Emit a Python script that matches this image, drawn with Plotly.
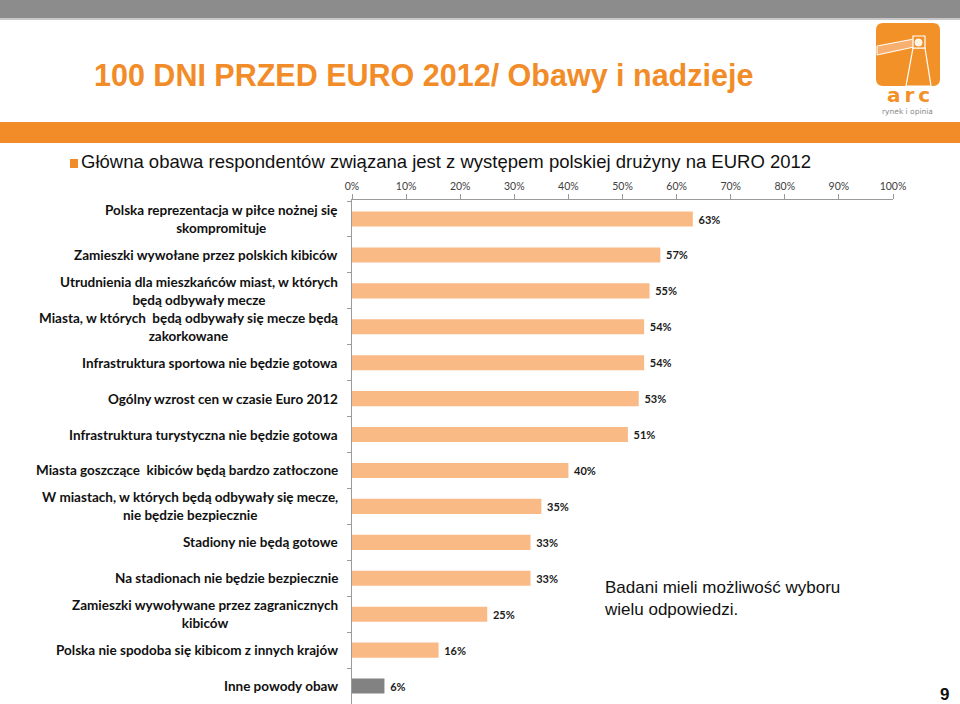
import plotly.graph_objects as go

categories = [
    "Polska reprezentacja w piłce nożnej się<br>skompromituje",
    "Zamieszki wywołane przez polskich kibiców",
    "Utrudnienia dla mieszkańców miast, w których<br>będą odbywały mecze",
    "Miasta, w których  będą odbywały się mecze będą<br>zakorkowane",
    "Infrastruktura sportowa nie będzie gotowa",
    "Ogólny wzrost cen w czasie Euro 2012",
    "Infrastruktura turystyczna nie będzie gotowa",
    "Miasta goszczące  kibiców będą bardzo zatłoczone",
    "W miastach, w których będą odbywały się mecze,<br>nie będzie bezpiecznie",
    "Stadiony nie będą gotowe",
    "Na stadionach nie będzie bezpiecznie",
    "Zamieszki wywoływane przez zagranicznych<br>kibiców",
    "Polska nie spodoba się kibicom z innych krajów",
    "Inne powody obaw",
]
values = [0.63, 0.57, 0.55, 0.54, 0.54, 0.53, 0.51, 0.40, 0.35, 0.33, 0.33, 0.25, 0.16, 0.06]
tick_vals = [0, 0.1, 0.2, 0.3, 0.4, 0.5, 0.6, 0.7, 0.8, 0.9, 1.0]
tick_text = ["0%", "10%", "20%", "30%", "40%", "50%", "60%", "70%", "80%", "90%", "100%"]

PEACH = "#F9BA86"
GREY_BAR = "#828282"
ORANGE = "#F28C28"
LOGO = "#F39129"
bar_colors = [PEACH] * (len(values) - 1) + [GREY_BAR]

W, H = 960, 704
L, R, T, B = 352, 67, 200, 0
PW = W - L - R
PH = H - T - B


def xp(x):
    return (x - L) / PW


def yp(y):
    return (H - B - y) / PH


LABEL_FONT = "Lato, Carlito, Calibri, sans-serif"

fig = go.Figure(
    go.Bar(
        x=values,
        y=categories,
        orientation="h",
        marker=dict(color=bar_colors, line=dict(width=0)),
        texttemplate="\u00a0%{x:.0%}",
        textposition="outside",
        textfont=dict(family=LABEL_FONT, size=11, color="#1a1a1a", weight="bold"),
        cliponaxis=False,
        hoverinfo="skip",
    )
)

# category labels (centered multi-line, right aligned block)
for c in categories:
    fig.add_annotation(
        x=xp(340), xref="paper", y=c, yref="y",
        text=c, showarrow=False, xanchor="right", align="center",
        font=dict(family=LABEL_FONT, size=13.5, color="#111111", weight="bold"),
    )

shapes = []
# top grey band
shapes.append(dict(type="rect", xref="paper", yref="paper", x0=xp(0), x1=xp(960), y0=yp(18), y1=yp(0),
                   fillcolor="#8C8C8C", line=dict(width=0), layer="below"))
shapes.append(dict(type="rect", xref="paper", yref="paper", x0=xp(0), x1=xp(960), y0=yp(20), y1=yp(18),
                   fillcolor="#C8C8C8", line=dict(width=0), layer="below"))
# orange band
shapes.append(dict(type="rect", xref="paper", yref="paper", x0=xp(0), x1=xp(960), y0=yp(143), y1=yp(122),
                   fillcolor=ORANGE, line=dict(width=0), layer="below"))
# subtitle bullet
shapes.append(dict(type="rect", xref="paper", yref="paper", x0=xp(70), x1=xp(78), y0=yp(168), y1=yp(159),
                   fillcolor=ORANGE, line=dict(width=0)))
# logo square (rounded)
x0, x1, y0, y1, r = 876, 940, 23, 86, 7
path = (f"M {xp(x0 + r)},{yp(y0)} L {xp(x1 - r)},{yp(y0)} Q {xp(x1)},{yp(y0)} {xp(x1)},{yp(y0 + r)} "
        f"L {xp(x1)},{yp(y1 - r)} Q {xp(x1)},{yp(y1)} {xp(x1 - r)},{yp(y1)} "
        f"L {xp(x0 + r)},{yp(y1)} Q {xp(x0)},{yp(y1)} {xp(x0)},{yp(y1 - r)} "
        f"L {xp(x0)},{yp(y0 + r)} Q {xp(x0)},{yp(y0)} {xp(x0 + r)},{yp(y0)} Z")
shapes.append(dict(type="path", xref="paper", yref="paper", path=path, fillcolor=LOGO, line=dict(width=0)))
# light beam
beam = f"M {xp(877)},{yp(46)} L {xp(914)},{yp(39)} L {xp(914)},{yp(47)} L {xp(877)},{yp(55)} Z"
shapes.append(dict(type="path", xref="paper", yref="paper", path=beam, fillcolor="#F8B070",
                   line=dict(color="white", width=1)))
# tower
tower = (f"M {xp(913)},{yp(48)} L {xp(906)},{yp(86)} L {xp(931)},{yp(86)} L {xp(925)},{yp(48)} Z")
shapes.append(dict(type="path", xref="paper", yref="paper", path=tower, fillcolor=LOGO,
                   line=dict(color="white", width=1.2)))
# lamp housing
shapes.append(dict(type="rect", xref="paper", yref="paper", x0=xp(913), x1=xp(925), y0=yp(48), y1=yp(36),
                   fillcolor=LOGO, line=dict(color="white", width=1.2)))
shapes.append(dict(type="circle", xref="paper", yref="paper", x0=xp(915), x1=xp(922), y0=yp(46), y1=yp(39),
                   fillcolor="#FFF3E0", line=dict(color="white", width=1)))

annotations = [
    dict(x=xp(92), y=yp(75), xref="paper", yref="paper", xanchor="left", yanchor="middle",
         text="<b>100 DNI PRZED EURO 2012/ Obawy i nadzieje</b>", showarrow=False,
         font=dict(family="Liberation Sans, Arial, Helvetica, sans-serif", size=30.5, color=ORANGE)),
    dict(x=xp(79), y=yp(161), xref="paper", yref="paper", xanchor="left", yanchor="middle",
         text="Główna obawa respondentów związana jest z występem polskiej drużyny na EURO 2012", showarrow=False,
         font=dict(family="Liberation Sans, Arial, sans-serif", size=18.5, color="#111111")),
    dict(x=xp(602), y=yp(598), xref="paper", yref="paper", xanchor="left", yanchor="middle", align="left",
         text="Badani mieli możliwość wyboru<br>wielu odpowiedzi.", showarrow=False,
         font=dict(family="Liberation Sans, Arial, sans-serif", size=17, color="#111111")),
    dict(x=xp(951), y=yp(694), xref="paper", yref="paper", xanchor="right", yanchor="middle",
         text="<b>9</b>", showarrow=False,
         font=dict(family="Liberation Sans, Arial, sans-serif", size=17, color="#111111")),
    dict(x=xp(908), y=yp(95), xref="paper", yref="paper", xanchor="center", yanchor="middle",
         text="<b>a\u2009r\u2009c</b>", showarrow=False,
         font=dict(family="DejaVu Sans, Inter, sans-serif", size=20, color=LOGO)),
    dict(x=xp(907), y=yp(112), xref="paper", yref="paper", xanchor="center", yanchor="middle",
         text="rynek i opinia", showarrow=False,
         font=dict(family="DejaVu Sans, Inter, sans-serif", size=7.5, color="#8A8A8A")),
]

fig.update_layout(
    width=W, height=H,
    margin=dict(l=L, r=R, t=T, b=B, pad=0),
    paper_bgcolor="white", plot_bgcolor="white",
    bargap=0.58,
    showlegend=False,
    shapes=shapes,
    xaxis=dict(
        side="top", range=[0, 1], tickvals=tick_vals, ticktext=tick_text,
        showgrid=False, zeroline=False, showline=True, linecolor="#9A9A9A", linewidth=1,
        ticks="outside", ticklen=5, tickcolor="#9A9A9A",
        tickfont=dict(family=LABEL_FONT, size=10.5, color="#404040"),
        fixedrange=True,
    ),
    yaxis=dict(
        autorange="reversed", showticklabels=False, showgrid=False, zeroline=False,
        showline=True, linecolor="#9A9A9A", linewidth=1,
        ticks="outside", ticklen=4, tickcolor="#9A9A9A", tickson="boundaries",
        fixedrange=True,
    ),
)
for a in annotations:
    fig.add_annotation(**a)

fig.write_html(
    "out.html",
    config={"displayModeBar": False},
    post_script="document.body.style.margin='0';document.body.style.overflow='hidden';",
)
